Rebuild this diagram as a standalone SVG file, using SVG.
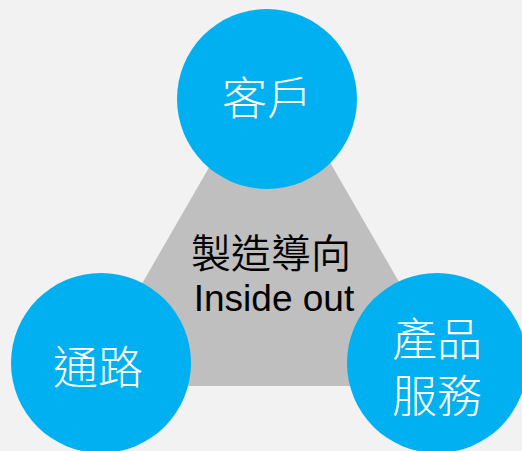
<svg xmlns="http://www.w3.org/2000/svg" width="522" height="451" viewBox="0 0 522 451">
<style>
.c{fill:#00b0f0}
.w{fill:#fff;font-family:"Liberation Sans","Noto Sans CJK TC","Noto Sans CJK SC",sans-serif;font-size:45px;font-weight:300;text-anchor:middle}
.k{fill:#000;text-anchor:middle;font-family:"Liberation Sans","Noto Sans CJK TC",sans-serif}
</style>
<rect width="522" height="451" fill="#f2f2f2"/>
<g id="center">
<polygon points="83,386 459,386 271,60" fill="#bfbfbf"/>
<text class="k" x="271" y="268" font-size="40" font-weight="350">製造導向</text>
<text class="k" x="274" y="311" font-size="37">Inside out</text>
</g>
<g id="customer">
<circle class="c" cx="267" cy="99" r="90"/>
<text class="w" x="267" y="115">客戶</text>
</g>
<g id="channel">
<circle class="c" cx="101" cy="363" r="90"/>
<text class="w" x="98" y="384">通路</text>
</g>
<g id="product">
<circle class="c" cx="437" cy="363" r="90"/>
<text class="w" x="437" y="356">產品</text>
<text class="w" x="437" y="413">服務</text>
</g>
</svg>
